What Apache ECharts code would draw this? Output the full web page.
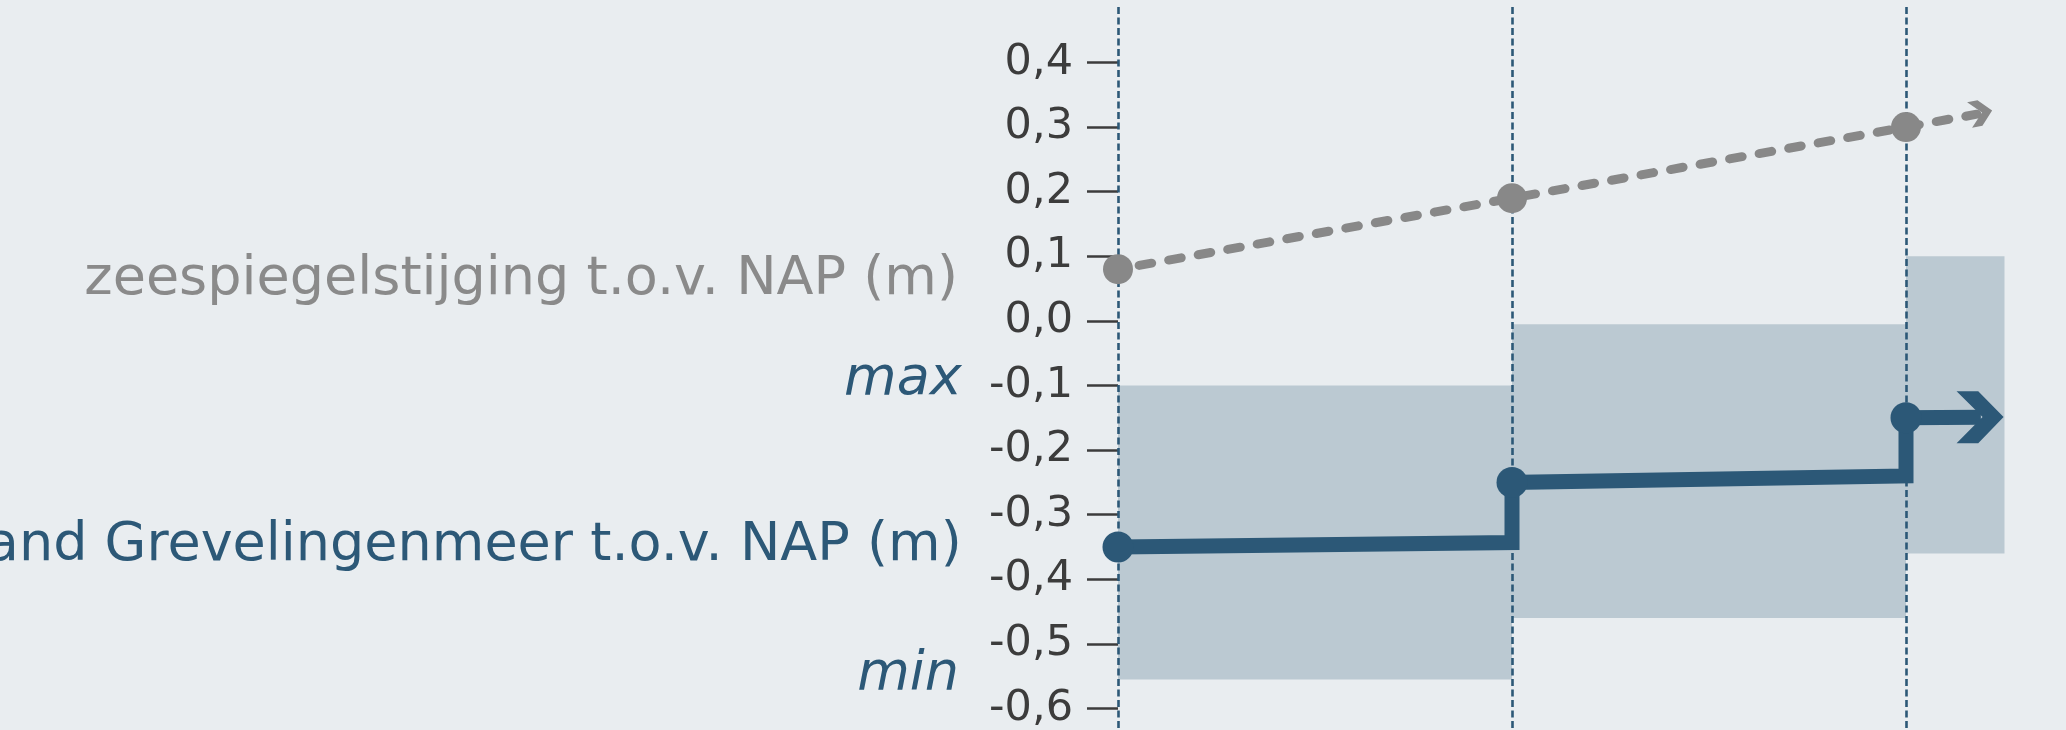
<!DOCTYPE html>
<html>
<head>
<meta charset="utf-8">
<script src="https://cdn.jsdelivr.net/npm/echarts@6/dist/echarts.min.js"></script>
<style>
  html, body { margin: 0; padding: 0; background: #e9edf0; }
  #chart { width: 2066px; height: 730px; }
</style>
</head>
<body>
<div id="chart"></div>
<script>
// ---- data ----
const periodX = [0, 1, 2];
const seaLevelX = [0, 1, 2, 2.18];
const seaLevel = [0.08, 0.19, 0.30, 0.32];
const seaMarker = [true, true, true, false];
const seaArrow = [2.19, 0.322];

const lakeX = [0, 1, 1, 2, 2, 2.19];
const lakeLevel = [-0.35, -0.343, -0.25, -0.24, -0.15, -0.149];
const lakeMarker = [true, false, true, false, true, false];
const lakeArrow = [2.188, -0.149];

const bandStart = [0, 1, 2];
const bandEnd = [1, 2, 2.25];
const bandMax = [-0.10, -0.005, 0.10];
const bandMin = [-0.555, -0.46, -0.36];

const yTicks = [0.4, 0.3, 0.2, 0.1, 0.0, -0.1, -0.2, -0.3, -0.4, -0.5, -0.6];
const seaLabel = 'zeespiegelstijging t.o.v. NAP (m)';
const lakeLabel = 'Waterstand Grevelingenmeer t.o.v. NAP (m)';
const maxLabel = 'max';
const minLabel = 'min';

// ---- styles ----
const BLUE = '#2c5877';
const GREY = '#888888';
const BAND = '#bbc9d2';
const TEXT = '#3c3c3c';
const FONT = '"DejaVu Sans", Verdana, sans-serif';
const CHEVRON = 'path://M0,0L65,0L141,78L65,157L0,157L78,78Z';

const chart = echarts.init(document.getElementById('chart'), null, { renderer: 'canvas' });

const bandData = bandStart.map((s, i) => [s, bandEnd[i], bandMax[i], bandMin[i]]);
const seaData = seaLevelX.map((x, i) => ({
  value: [x, seaLevel[i]],
  symbol: seaMarker[i] ? 'circle' : 'none'
}));
const lakeData = lakeX.map((x, i) => ({
  value: [x, lakeLevel[i]],
  symbol: lakeMarker[i] ? 'circle' : 'none'
}));

const option = {
  animation: false,
  backgroundColor: '#e9edf0',
  grid: { left: 1118, right: 61.5, top: 5, bottom: 0, containLabel: false },
  xAxis: { type: 'value', min: 0, max: 2.25, show: false },
  yAxis: {
    type: 'value',
    min: -0.63,
    max: 0.489,
    axisLine: { show: false },
    splitLine: { show: false },
    axisTick: {
      show: true, length: 31, customValues: yTicks,
      lineStyle: { color: TEXT, width: 2.5 }
    },
    axisLabel: {
      customValues: yTicks,
      margin: 45,
      color: TEXT,
      fontFamily: FONT,
      fontSize: 43,
      formatter: v => (Math.abs(v) < 1e-9 ? 0 : v).toFixed(1).replace('.', ',')
    }
  },
  series: [
    {
      type: 'custom',
      z: 1,
      silent: true,
      data: bandData,
      encode: { x: [0, 1], y: [2, 3] },
      renderItem: (params, api) => {
        const p0 = api.coord([api.value(0), api.value(2)]);
        const p1 = api.coord([api.value(1), api.value(3)]);
        return {
          type: 'rect',
          shape: { x: p0[0], y: p0[1], width: p1[0] - p0[0], height: p1[1] - p0[1] },
          style: { fill: BAND }
        };
      },
      markLine: {
        z: 2,
        silent: true,
        symbol: ['none', 'none'],
        label: { show: false },
        lineStyle: { color: BLUE, width: 2.6, type: [7, 3.5], opacity: 1 },
        emphasis: { disabled: true },
        data: periodX.map(x => ({ xAxis: x }))
      }
    },
    {
      type: 'line',
      z: 3,
      silent: true,
      clip: false,
      data: seaData,
      symbolSize: 30,
      itemStyle: { color: GREY, opacity: 1 },
      lineStyle: { color: GREY, width: 9, type: [12.7, 17.3], dashOffset: 8.5, cap: 'round' }
    },
    {
      type: 'line',
      z: 3,
      silent: true,
      clip: false,
      data: lakeData,
      symbolSize: 31,
      itemStyle: { color: BLUE, opacity: 1 },
      lineStyle: { color: BLUE, width: 15, join: 'miter', cap: 'butt' }
    },
    {
      type: 'scatter',
      z: 4,
      silent: true,
      clip: false,
      data: [
        { value: seaArrow, symbol: CHEVRON, symbolSize: [23, 26], symbolRotate: 11, itemStyle: { color: GREY, opacity: 1 } },
        { value: lakeArrow, symbol: CHEVRON, symbolSize: [47, 52], symbolRotate: 0, itemStyle: { color: BLUE, opacity: 1 } }
      ]
    }
  ],
  graphic: [
    { type: 'text', x: 958, y: 280, silent: true,
      style: { text: seaLabel, fill: '#8a8a8a', font: '54px ' + FONT, textAlign: 'right', align: 'right', textVerticalAlign: 'middle', verticalAlign: 'middle' } },
    { type: 'text', x: 961.7, y: 545.5, silent: true,
      style: { text: lakeLabel, fill: BLUE, font: '54px ' + FONT, textAlign: 'right', align: 'right', textVerticalAlign: 'middle', verticalAlign: 'middle' } },
    { type: 'text', x: 961.7, y: 380, silent: true,
      style: { text: maxLabel, fill: BLUE, font: 'italic 54px ' + FONT, textAlign: 'right', align: 'right', textVerticalAlign: 'middle', verticalAlign: 'middle' } },
    { type: 'text', x: 959, y: 674.7, silent: true,
      style: { text: minLabel, fill: BLUE, font: 'italic 54px ' + FONT, textAlign: 'right', align: 'right', textVerticalAlign: 'middle', verticalAlign: 'middle' } }
  ]
};

chart.setOption(option);
</script>
</body>
</html>
